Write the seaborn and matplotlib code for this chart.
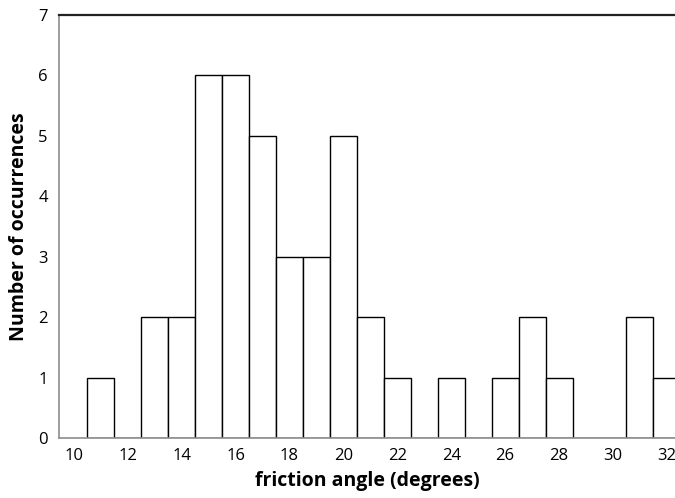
import matplotlib
matplotlib.use("Agg")
import matplotlib.pyplot as plt
import seaborn as sns
import pandas as pd
from matplotlib.ticker import MultipleLocator

angles = [11, 13, 14, 15, 16, 17, 18, 19, 20, 21, 22, 24, 26, 27, 28, 31, 32]
counts = [1, 2, 2, 6, 6, 5, 3, 3, 5, 2, 1, 1, 1, 2, 1, 2, 1]
x_ticks = [10, 12, 14, 16, 18, 20, 22, 24, 26, 28, 30, 32]
y_ticks = [0, 1, 2, 3, 4, 5, 6, 7]

df = pd.DataFrame({"angle": angles, "count": counts})

sns.set_style("white")
plt.rcParams['font.family'] = ['Open Sans', 'DejaVu Sans']

fig = plt.figure(figsize=(6.75, 4.98), dpi=100)
ax = fig.add_axes([59/675, 1 - 438/498, 1 - 59/675, (438 - 15)/498])

sns.histplot(data=df, x="angle", weights="count", discrete=True,
             color="white", edgecolor="black", linewidth=1.0, alpha=1,
             ax=ax)

ax.set_xlim(9.45, 32.3)
ax.set_ylim(0, 7)
ax.set_xticks(x_ticks)
ax.set_xticklabels([str(t) for t in x_ticks])
ax.xaxis.set_minor_locator(MultipleLocator(0.5))
ax.set_yticks(y_ticks)
ax.set_yticklabels([str(t) for t in y_ticks])

gray = "#8c8c8c"
ax.tick_params(axis="x", which="both", direction="in", length=4, width=1,
               color=gray, labelcolor="black", labelsize=12, pad=7)
ax.tick_params(axis="y", which="major", direction="in", length=4, width=1,
               color=gray, labelcolor="black", labelsize=12, pad=8)

for s in ["left", "bottom"]:
    ax.spines[s].set_color(gray)
    ax.spines[s].set_linewidth(1.2)
ax.spines["right"].set_visible(False)
ax.spines["top"].set_color("#222222")
ax.spines["top"].set_linewidth(1.6)

ax.set_xlabel("friction angle (degrees)", fontsize=14, fontweight="bold",
              labelpad=5, color="black")
ax.set_ylabel("Number of occurrences", fontsize=14, fontweight="bold",
              labelpad=7, color="black")

fig.savefig("out.png", dpi=100)
